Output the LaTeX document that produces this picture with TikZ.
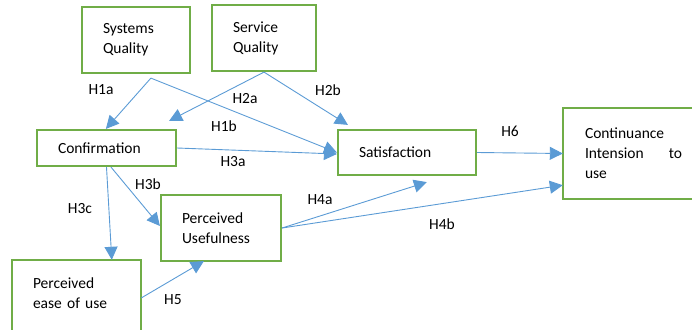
\documentclass[tikz,border=0pt]{standalone}
\usepackage{fontspec}
\setmainfont{Carlito}
\usetikzlibrary{arrows.meta,calc}
\definecolor{boxgreen}{HTML}{70AD47}
\definecolor{arrblue}{HTML}{5B9BD5}
\begin{document}
\begin{tikzpicture}[x=1pt,y=-1pt,
  boxtext/.style={rectangle,inner xsep=21pt,inner ysep=2pt,
    align=left,font=\fontsize{15.5}{20}\selectfont},
  box/.style={boxtext,draw=boxgreen,line width=2.2pt},
  gline/.style={draw=boxgreen,line width=2.2pt},
  arr/.style={draw=arrblue,line width=0.9pt,-{Triangle[length=13pt,width=13pt]}},
  lbl/.style={font=\fontsize{15.5}{20}\selectfont,inner sep=0pt}]
\useasboundingbox (0,0) rectangle (692,329);
\clip (0,0) rectangle (692,329);
% boxes
\node[box,minimum width=108pt,minimum height=66pt,text width=66pt] (sysq) at (136,40) {Systems\\Quality};
\node[box,minimum width=104pt,minimum height=66pt,text width=62pt] (servq) at (264,38) {Service\\Quality};
\node[box,minimum width=139pt,minimum height=36pt,text width=97pt] (conf) at (106.5,148) {Confirmation};
\node[box,minimum width=138pt,minimum height=45pt,text width=96pt] (sat) at (407,152.5) {Satisfaction};
\node[boxtext,inner xsep=22pt,minimum width=157pt,minimum height=91pt,text width=113pt] (cont) at (641.5,153.5)
  {Continuance\\\makebox[97pt][l]{Intension\hfill to}\\use};
\draw[gline] ($(cont.north west)+(135,0)$) -- (cont.north west) -- (cont.south west) -- ++(135,0);
\node[box,minimum width=120pt,minimum height=66pt,text width=78pt] (pu) at (221,228) {Perceived\\Usefulness};
\node[boxtext,minimum width=129pt,minimum height=66pt,text width=87pt] (peou) at (76.5,293) {Perceived\\ease of use};
\draw[gline] ($(peou.south west)+(0,10)$) -- (peou.north west) -- (peou.north east) -- ($(peou.south east)+(0,10)$);
% connectors
\draw[arr] ($(sysq.south west)+(70,4)$) -- ($(conf.north west)+(70,0)$);
\draw[arr] ($(sysq.south west)+(70,4)$) -- (sat.west);
\draw[arr] (servq.south) -- ($(conf.north east)+(-8,-8)$);
\draw[arr] (servq.south) -- ($(sat.north west)+(11,-4)$);
\draw[arr] (conf.east) -- ($(sat.west)+(0,1.5)$);
\draw[arr] (sat.east) -- (cont.west);
\draw[arr] (conf.south) -- ($(peou.north west)+(100,0)$);
\draw[arr] ($(conf.south)+(4.5,0)$) -- ($(pu.west)+(0,-2)$);
\draw[arr] ($(peou.east)+(0,5)$) -- ($(pu.south west)+(44,-1)$);
\draw[arr] (pu.east) -- ($(sat.south west)+(90,6)$);
\draw[arr] (pu.east) -- ($(cont.south west)+(0,-14)$);
% labels
\node[lbl] (h1a) at (101,90) {H1a};
\node[lbl] (h2a) at (245,99) {H2a};
\node[lbl] (h2b) at (328,90) {H2b};
\node[lbl] (h1b) at (224,126) {H1b};
\node[lbl] (h3a) at (233,162) {H3a};
\node[lbl] (h6) at (510,131) {H6};
\node[lbl] (h3b) at (148,184) {H3b};
\node[lbl] (h3c) at (80,209) {H3c};
\node[lbl] (h4a) at (320,200) {H4a};
\node[lbl] (h5) at (173,300) {H5};
\node[lbl] (h4b) at (442,224) {H4b};
\end{tikzpicture}
\end{document}
